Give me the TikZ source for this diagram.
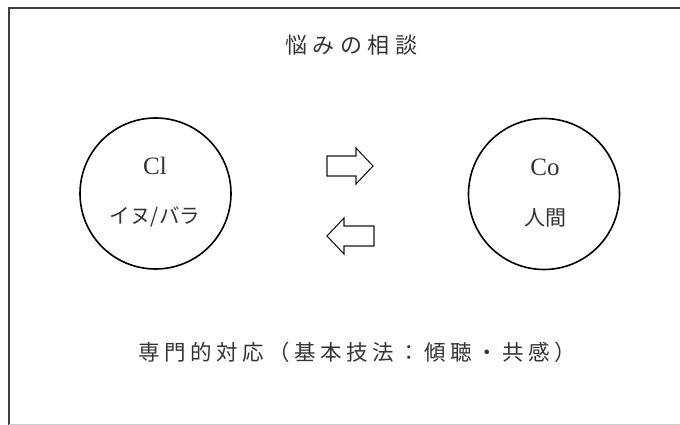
\documentclass[tikz,border=0pt]{standalone}
\usepackage{fontspec}
\setmainfont{Liberation Serif}
\newfontfamily\cjk{Noto Sans CJK JP}
\newfontfamily\cjktitle[LetterSpace=25]{Noto Sans CJK JP}
\newfontfamily\cjkbottom[LetterSpace=21]{Noto Sans CJK JP}
\begin{document}
\begin{tikzpicture}[x=1pt,y=-1pt,
  party/.style={circle,draw=black,line width=1.6pt,minimum size=151pt,inner sep=0pt},
  lab/.style={inner sep=0pt,text=black!80},
  arr/.style={draw=black!90,line width=1.1pt,fill=white,line join=miter}]
\useasboundingbox (0,0) rectangle (680,425);
% frame
\draw[black!75,line width=1.3pt] (680,8) -- (9,8) -- (9,425);
\draw[black!20,line width=1pt] (9,424.5) -- (680,424.5);
% title
\node[lab,font=\cjktitle\fontsize{22}{22}\selectfont] (title) at (351,45) {悩みの相談};
% circles
\node[party] (cl) at (155.5,193.5) {};
\node[party] (co) at (544,194) {};
\node[lab,font=\fontsize{25}{25}\selectfont] (clname) at (155,166) {Cl};
\node[lab,font=\cjk\fontsize{20.5}{20.5}\selectfont] (clsub) at (155,217) {イヌ/バラ};
\node[lab,font=\fontsize{25}{25}\selectfont] (coname) at (545,167) {Co};
\node[lab,font=\cjk\fontsize{21}{21}\selectfont] (cosub) at (545,218) {人間};
% arrows
\draw[arr] (327,156) -- (356,156) -- (356,148) -- (373,166) -- (356,184) -- (356,176) -- (327,176) -- cycle;
\draw[arr] (374,226) -- (344,226) -- (344,218) -- (327,236) -- (344,254) -- (344,246) -- (374,246) -- cycle;
% bottom text
\node[lab,font=\cjkbottom\fontsize{21.5}{21.5}\selectfont] (method) at (357,352) {専門的対応（基本技法：傾聴・共感）};
\end{tikzpicture}
\end{document}
